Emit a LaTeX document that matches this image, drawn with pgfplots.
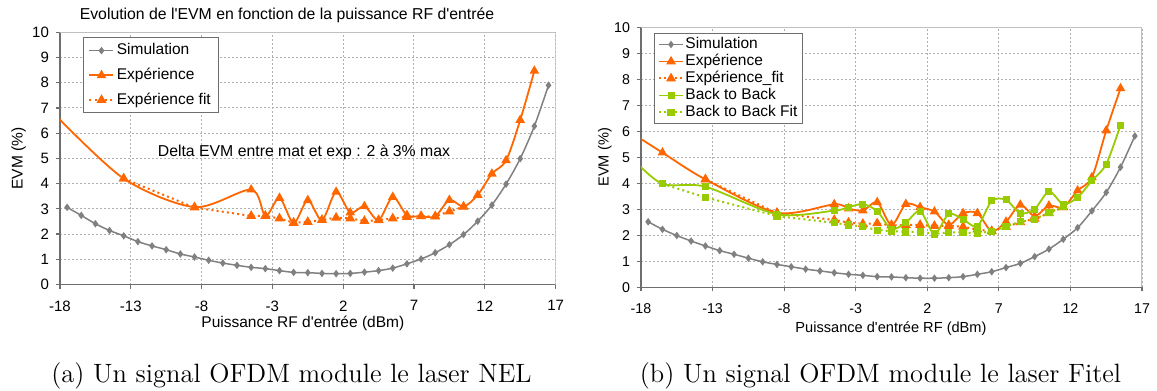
\documentclass[border=0pt]{standalone}
\usepackage{fontspec}
\newfontfamily\chartfont{Liberation Sans}
\usepackage{pgfplots}
\pgfplotsset{compat=1.18}
\definecolor{exporange}{RGB}{255,102,0}
\definecolor{btbgreen}{RGB}{153,204,0}
\definecolor{simgray}{RGB}{128,128,128}
\definecolor{gridgray}{RGB}{175,175,175}
\definecolor{framegray}{RGB}{192,192,192}
\definecolor{axisgray}{RGB}{110,110,110}

\pgfplotsset{
  evmaxis/.style={
    scale only axis,
    xmin=-18, xmax=17, ymin=0, ymax=10,
    xtick={-18,-13,-8,-3,2,7,12,17},
    xticklabels={-18,-13,-8,-3,2,7,12,17},
    ytick={0,1,2,3,4,5,6,7,8,9,10},
    yticklabels={0,1,2,3,4,5,6,7,8,9,10},
    axis lines*=left,
    axis line style={axisgray, line width=0.6pt},
    tick align=outside,
    major tick length=2pt,
    tick style={axisgray, line width=0.6pt},
    grid=major,
    major grid style={gridgray, line width=0.5pt, dash pattern=on 1pt off 1pt},
    legend cell align=left,
    clip marker paths=true,
    legend image code/.code={\draw[mark repeat=2,mark phase=2,##1] plot coordinates {(0pt,0pt) (6pt,0pt) (12pt,0pt)};},
  },
  simstyle/.style={simgray, line width=0.75pt, smooth, mark=diamond*, mark size=1.3pt},
  expstyle/.style={exporange, line width=0.9pt, smooth, mark=triangle*, mark size=1.9pt},
  expfit/.style={exporange, line width=1pt, dash pattern=on 1pt off 1.6pt, mark=triangle*, mark size=1.9pt, mark options={solid}},
  btbstyle/.style={btbgreen, line width=0.9pt, smooth, mark=square*, mark size=1.3pt},
  btbfit/.style={btbgreen, line width=1pt, dash pattern=on 1pt off 1.6pt, mark=square*, mark size=1.3pt, mark options={solid}},
}

\begin{document}
\begin{tikzpicture}
\path[use as bounding box] (0pt,0pt) rectangle (578.5pt,-195.5pt);

% ---------------- Left chart (a) ----------------
\begin{axis}[evmaxis,
  at={(30pt,-142.25pt)}, anchor=south west,
  width=247.8pt, height=126.1pt,
  tick label style={font=\chartfont\fontsize{7.5}{9}\selectfont},
  xticklabel style={yshift=-2.5pt},
  xlabel={Puissance RF d'entrée (dBm)},
  ylabel={EVM (\%)},
  label style={font=\chartfont\fontsize{7.75}{9}\selectfont},
  xlabel style={at={(axis description cs:0.49,-0.154)}, anchor=center},
  ylabel style={at={(axis description cs:-0.0835,0.5)}, anchor=center},
  legend style={at={(0.0464,0.98)}, anchor=north west, draw=axisgray, line width=0.5pt,
    font=\chartfont\fontsize{7.75}{9}\selectfont, inner xsep=2.5pt, inner ysep=1.5pt,
    row sep=2.55pt, nodes={inner sep=1.2pt, text height=5.8pt, text depth=1.6pt}},
]
\draw[framegray, line width=0.6pt] (rel axis cs:0,1) -- (rel axis cs:1,1) -- (rel axis cs:1,0);

\addplot[simstyle] table {
x y
-17.5 3.06
-16.5 2.74
-15.5 2.41
-14.5 2.14
-13.5 1.93
-12.5 1.70
-11.5 1.53
-10.5 1.38
-9.5 1.21
-8.5 1.09
-7.5 0.96
-6.5 0.85
-5.5 0.76
-4.5 0.68
-3.5 0.63
-2.5 0.55
-1.5 0.48
-0.5 0.47
0.5 0.44
1.5 0.43
2.5 0.44
3.5 0.49
4.5 0.55
5.5 0.65
6.5 0.82
7.5 1.01
8.5 1.26
9.5 1.58
10.5 1.98
11.5 2.51
12.5 3.15
13.5 3.98
14.5 4.99
15.5 6.28
16.5 7.90
};
\addlegendentry{Simulation}

\addplot[expstyle] table {
x y
-18.5 6.82
-13.5 4.20
-8.5 3.07
-4.5 3.76
-3.5 2.72
-2.5 3.43
-1.5 2.44
-0.5 3.34
0.5 2.55
1.5 3.67
2.5 2.85
3.5 3.10
4.5 2.55
5.5 3.47
6.5 2.75
7.5 2.71
8.5 2.70
9.5 3.35
10.5 3.09
11.5 3.55
12.5 4.39
13.5 4.92
14.5 6.52
15.5 8.47
};
\addlegendentry{Expérience}

\addplot[expfit] table {
x y
-13.5 4.20
-8.5 3.05
-4.5 2.72
-3.5 2.72
-2.5 2.62
-1.5 2.45
-0.5 2.48
0.5 2.56
1.5 2.65
2.5 2.62
3.5 2.52
4.5 2.55
5.5 2.62
6.5 2.68
7.5 2.71
8.5 2.70
9.5 2.90
10.5 3.08
};
\addlegendentry{Expérience fit}

\node[font=\chartfont\fontsize{7.9}{9}\selectfont] at (axis cs:-0.77,5.26) {Delta EVM entre mat et exp : 2 à 3\% max};
\end{axis}

\node[font=\chartfont\fontsize{7.9}{9}\selectfont] at (143.5pt,-7.5pt) {Evolution de l'EVM en fonction de la puissance RF d'entrée};

% ---------------- Right chart (b) ----------------
\begin{axis}[evmaxis,
  at={(320.5pt,-143.65pt)}, anchor=south west,
  width=250.5pt, height=130pt,
  tick label style={font=\chartfont\fontsize{7.1}{9}\selectfont},
  xticklabel style={yshift=-2.6pt},
  xlabel={Puissance d'entrée RF (dBm)},
  ylabel={EVM (\%)},
  label style={font=\chartfont\fontsize{7.3}{9}\selectfont},
  xlabel style={at={(axis description cs:0.499,-0.160)}, anchor=center},
  ylabel style={at={(axis description cs:-0.072,0.5)}, anchor=center},
  legend style={at={(0.025,0.977)}, anchor=north west, draw=axisgray, line width=0.5pt,
    font=\chartfont\fontsize{7.75}{9}\selectfont, inner xsep=2pt, inner ysep=1.1pt,
    row sep=0pt, nodes={inner sep=0.7pt, text height=5.6pt, text depth=1.5pt}},
]
\draw[framegray, line width=0.6pt] (rel axis cs:0,1) -- (rel axis cs:1,1) -- (rel axis cs:1,0);

\addplot[simstyle] table {
x y
-17.5 2.52
-16.5 2.23
-15.5 1.99
-14.5 1.78
-13.5 1.59
-12.5 1.41
-11.5 1.27
-10.5 1.12
-9.5 0.98
-8.5 0.88
-7.5 0.79
-6.5 0.70
-5.5 0.63
-4.5 0.56
-3.5 0.50
-2.5 0.46
-1.5 0.41
-0.5 0.40
0.5 0.37
1.5 0.35
2.5 0.35
3.5 0.37
4.5 0.41
5.5 0.50
6.5 0.60
7.5 0.76
8.5 0.92
9.5 1.18
10.5 1.47
11.5 1.85
12.5 2.29
13.5 2.94
14.5 3.65
15.5 4.62
16.5 5.82
};
\addlegendentry{Simulation}

\addplot[expstyle] table {
x y
-18.5 5.88
-16.5 5.18
-13.5 4.15
-8.5 2.87
-4.5 3.19
-3.5 3.03
-2.5 2.95
-1.5 3.27
-0.5 2.40
0.5 3.20
1.5 3.08
2.5 2.91
3.5 2.40
4.5 2.85
5.5 2.85
6.5 2.16
7.5 2.52
8.5 3.17
9.5 2.74
10.5 3.14
11.5 3.08
12.5 3.72
13.5 4.23
14.5 6.03
15.5 7.65
};
\addlegendentry{Expérience}

\addplot[expfit] table {
x y
-13.5 4.15
-8.5 2.85
-4.5 2.59
-3.5 2.49
-2.5 2.44
-1.5 2.46
-0.5 2.38
0.5 2.40
1.5 2.40
2.5 2.36
3.5 2.36
4.5 2.33
5.5 2.22
6.5 2.16
7.5 2.33
8.5 2.50
9.5 2.64
10.5 2.85
11.5 3.08
};
\addlegendentry{Expérience\_fit}

\addplot[btbstyle] table {
x y
-18.5 4.90
-16.5 3.98
-13.5 3.87
-8.5 2.81
-4.5 2.95
-3.5 3.08
-2.5 3.20
-1.5 2.93
-0.5 2.24
0.5 2.49
1.5 2.93
2.5 2.05
3.5 2.82
4.5 2.61
5.5 2.35
6.5 3.32
7.5 3.36
8.5 2.85
9.5 3.01
10.5 3.68
11.5 3.20
12.5 3.46
13.5 4.10
14.5 4.74
15.5 6.24
};
\addlegendentry{Back to Back}

\addplot[btbfit] table {
x y
-16.5 3.98
-13.5 3.46
-8.5 2.74
-4.5 2.48
-3.5 2.40
-2.5 2.33
-1.5 2.20
-0.5 2.16
0.5 2.13
1.5 2.13
2.5 2.06
3.5 2.11
4.5 2.11
5.5 2.07
6.5 2.16
7.5 2.34
8.5 2.52
9.5 2.62
10.5 2.87
11.5 3.10
};
\addlegendentry{Back to Back Fit}
\end{axis}

% ---------------- Captions ----------------
\node[anchor=base, font=\fontsize{13.25}{15}\selectfont] at (145.75pt,-191pt) {(a) Un signal OFDM module le laser NEL};
\node[anchor=base, font=\fontsize{13.25}{15}\selectfont] at (440.25pt,-191pt) {(b) Un signal OFDM module le laser Fitel};
\end{tikzpicture}
\end{document}
